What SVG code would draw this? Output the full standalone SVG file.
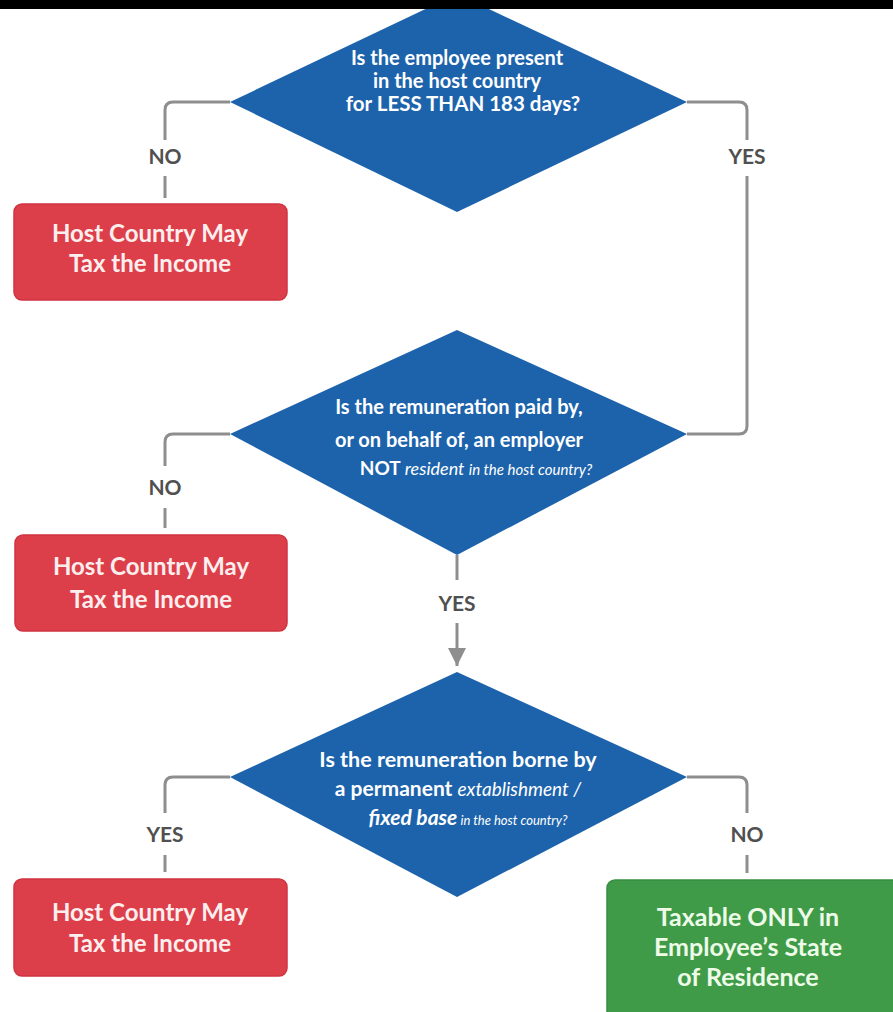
<svg xmlns="http://www.w3.org/2000/svg" width="893" height="1012" viewBox="0 0 893 1012">
<style>
.dia{fill:#1d63ac}
.red{fill:#dc3f4a;stroke:#cf3440;stroke-width:1.5}
.grn{fill:#3f9b48;stroke:#378f40;stroke-width:1.5}
.q{font-family:Lato,"Open Sans",sans-serif;font-weight:700;fill:#ffffff;text-anchor:middle}
.bt{font-family:Lato,"Open Sans",sans-serif;font-weight:700;fill:#fdeeee;text-anchor:middle;font-size:24px}
.gt{font-family:Lato,"Open Sans",sans-serif;font-weight:700;fill:#eefbe8;text-anchor:middle;font-size:25px}
.lbl{font-family:Lato,"Open Sans",sans-serif;font-weight:700;fill:#505050;text-anchor:middle;font-size:21px}
.ln{fill:none;stroke:#8e8e8e;stroke-width:3;stroke-linecap:butt}
.it{font-style:italic;font-weight:400}
</style>
<defs>
<marker id="ah" viewBox="0 0 10 10" refX="10" refY="5" markerWidth="6" markerHeight="6" markerUnits="strokeWidth" orient="auto">
<path d="M0,0 L10,5 L0,10 Z" fill="#8e8e8e"/>
</marker>
</defs>
<rect x="0" y="0" width="893" height="1012" fill="#ffffff"/>

<g id="connectors">
<path class="ln" d="M230,102 H173 Q165,102 165,110 V140"/>
<path class="ln" d="M165,176 V198"/>
<path class="ln" d="M687,102 H739 Q747,102 747,110 V140"/>
<path class="ln" d="M747,176 V426 Q747,434 739,434 H687"/>
<path class="ln" d="M230,434 H173 Q165,434 165,442 V466"/>
<path class="ln" d="M165,508 V528"/>
<path class="ln" d="M457,555 V580"/>
<path class="ln" d="M457,623 V666" marker-end="url(#ah)"/>
<path class="ln" d="M230,777 H173 Q165,777 165,785 V813"/>
<path class="ln" d="M165,855 V872"/>
<path class="ln" d="M687,777 H739 Q747,777 747,785 V813"/>
<path class="ln" d="M747,855 V873"/>
<text class="lbl" x="165" y="164">NO</text>
<text class="lbl" x="747" y="164">YES</text>
<text class="lbl" x="165" y="495">NO</text>
<text class="lbl" x="457" y="611">YES</text>
<text class="lbl" x="165" y="842">YES</text>
<text class="lbl" x="747" y="842">NO</text>
</g>

<g id="q1">
<polygon class="dia" points="457,-6 687,102 457,212 230,102"/>
<text class="q" font-size="20" x="457" y="65">Is the employee present</text>
<text class="q" font-size="20" x="457" y="88">in the host country</text>
<text class="q" font-size="20.5" x="463" y="111">for LESS THAN 183 days?</text>
</g>

<g id="no1">
<rect class="red" x="14" y="204" width="273" height="96" rx="8"/>
<text class="bt" x="150" y="242">Host Country May</text>
<text class="bt" x="150" y="272">Tax the Income</text>
</g>

<g id="q2">
<polygon class="dia" points="457,330 687,434 457,555 230,434"/>
<text class="q" font-size="20" x="459" y="414">Is the remuneration paid by,</text>
<text class="q" font-size="20" x="459" y="447">or on behalf of, an employer</text>
<text class="q" font-size="19" x="476" y="475">NOT <tspan class="it" font-size="18">resident </tspan><tspan class="it" font-size="15">in the host country?</tspan></text>
</g>

<g id="no2">
<rect class="red" x="15" y="535" width="272" height="96" rx="8"/>
<text class="bt" x="151" y="575">Host Country May</text>
<text class="bt" x="151" y="608">Tax the Income</text>
</g>

<g id="q3">
<polygon class="dia" points="457,672 687,777 457,897 230,777"/>
<text class="q" font-size="21.5" x="458" y="767">Is the remuneration borne by</text>
<text class="q" font-size="21" x="458" y="796">a permanent <tspan class="it" font-size="19">extablishment /</tspan></text>
<text class="q" font-size="21" x="468" y="825"><tspan font-style="italic">fixed base</tspan><tspan class="it" font-size="13"> in the host country?</tspan></text>
</g>

<g id="yes3">
<rect class="red" x="14" y="879" width="273" height="97" rx="8"/>
<text class="bt" x="150" y="921">Host Country May</text>
<text class="bt" x="150" y="952">Tax the Income</text>
</g>

<g id="only">
<rect class="grn" x="607" y="880" width="300" height="150" rx="8"/>
<text class="gt" x="748" y="926">Taxable ONLY in</text>
<text class="gt" x="748" y="956">Employee’s State</text>
<text class="gt" x="748" y="986">of Residence</text>
</g>

<rect x="0" y="0" width="893" height="9" fill="#000000"/>
</svg>
